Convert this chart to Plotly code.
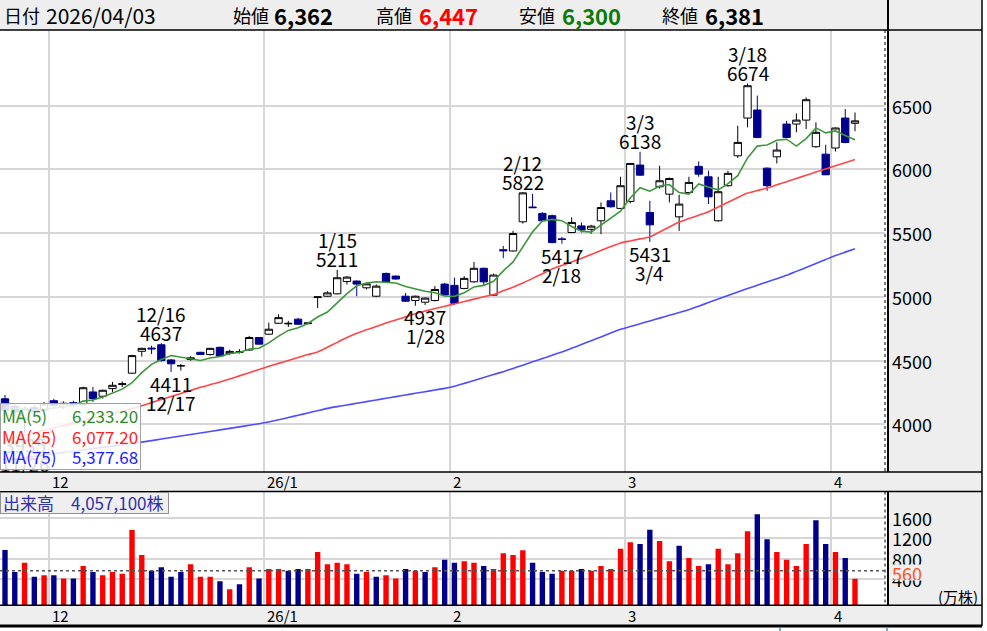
import plotly.graph_objects as go

W, H = 987, 631
FONT = "Noto Sans CJK JP"

# ---------------- data ----------------
dates = (
    ["2025/11/21", "2025/11/25", "2025/11/26", "2025/11/27", "2025/11/28"]
    + ["2025/12/%02d" % d for d in [1, 2, 3, 4, 5, 8, 9, 10, 11, 12, 15, 16, 17, 18, 19, 22, 23, 24, 25, 26, 29, 30]]
    + ["2026/01/%02d" % d for d in [5, 6, 7, 8, 9, 13, 14, 15, 16, 19, 20, 21, 22, 23, 26, 27, 28, 29, 30]]
    + ["2026/02/%02d" % d for d in [2, 3, 4, 5, 6, 9, 10, 12, 13, 16, 17, 18, 19, 20, 24, 25, 26, 27]]
    + ["2026/03/%02d" % d for d in [2, 3, 4, 5, 6, 9, 10, 11, 12, 13, 16, 17, 18, 19, 23, 24, 25, 26, 27, 30, 31]]
    + ["2026/04/%02d" % d for d in [1, 2, 3]]
)

opens = [4200, 4140, 4040, 4130, 4110, 4185, 4140, 4170, 4155, 4254,
         4220, 4280, 4312, 4401, 4573, 4598, 4624, 4505, 4458, 4508,
         4565, 4547, 4604, 4555, 4565, 4583, 4681, 4707, 4793, 4788,
         4825, 4790, 4995, 5005, 5024, 5120, 5124, 5071, 5005, 5184,
         5163, 5005, 4971, 4958, 4971, 5100, 5090, 5066, 5118, 5224,
         5013, 5370, 5360, 5589, 5705, 5655, 5637, 5455, 5505, 5557,
         5530, 5597, 5754, 5694, 5749, 6034, 5662, 5864, 5806, 5628,
         5819, 6024, 5942, 5597, 5872, 6107, 6403, 6466, 6010, 6099,
         6356, 6356, 6387, 6178, 6120, 6168, 6403, 6362]
highs = [4230, 4160, 4140, 4150, 4175, 4200, 4180, 4185, 4295, 4293,
         4272, 4332, 4337, 4545, 4600, 4617, 4637, 4512, 4474, 4535,
         4568, 4600, 4610, 4585, 4590, 4694, 4684, 4798, 4863, 4811,
         4835, 4800, 5003, 5045, 5211, 5163, 5128, 5110, 5097, 5190,
         5168, 5031, 5010, 4995, 5084, 5110, 5150, 5163, 5274, 5230,
         5182, 5400, 5518, 5822, 5808, 5665, 5645, 5471, 5624, 5584,
         5565, 5741, 5819, 5942, 6050, 6138, 5754, 6029, 5935, 5801,
         5942, 6063, 5990, 5942, 5990, 6343, 6674, 6579, 6015, 6212,
         6382, 6440, 6565, 6369, 6194, 6330, 6474, 6447]
lows = [4080, 4060, 3935, 4085, 4095, 4130, 4120, 4135, 4140, 4176,
        4202, 4254, 4293, 4395, 4531, 4552, 4490, 4411, 4422, 4498,
        4545, 4540, 4530, 4545, 4555, 4578, 4625, 4700, 4790, 4764,
        4780, 4783, 4913, 5000, 5020, 5097, 5005, 5058, 4998, 5115,
        5135, 4960, 4930, 4937, 4965, 5005, 4940, 5060, 5110, 5085,
        5010, 5303, 5355, 5575, 5698, 5590, 5420, 5417, 5500, 5505,
        5495, 5492, 5700, 5690, 5733, 5950, 5431, 5850, 5741, 5518,
        5810, 5942, 5728, 5590, 5865, 6089, 6330, 6245, 5832, 6047,
        6245, 6291, 6317, 6170, 5955, 6141, 6205, 6300]
closes = [4110, 4100, 4120, 4100, 4160, 4150, 4165, 4150, 4287, 4202,
          4267, 4306, 4318, 4539, 4596, 4592, 4500, 4475, 4460, 4522,
          4548, 4596, 4536, 4572, 4568, 4681, 4629, 4746, 4837, 4792,
          4785, 4795, 5000, 5031, 5150, 5155, 5100, 5102, 5084, 5118,
          5140, 4966, 5005, 4990, 5058, 5015, 4950, 5145, 5224, 5118,
          5171, 5362, 5497, 5816, 5700, 5597, 5426, 5450, 5584, 5525,
          5555, 5701, 5707, 5872, 6047, 5955, 5565, 5911, 5929, 5728,
          5898, 5963, 5785, 5825, 5969, 6212, 6657, 6251, 5872, 6152,
          6251, 6387, 6547, 6291, 5958, 6325, 6211, 6381]

# volume in 10,000 shares (万株)
volume = [967, 536, 719, 445, 471, 471, 412, 412, 654, 536,
          471, 536, 504, 1359, 869, 562, 628, 445, 536, 687,
          445, 445, 354, 197, 295, 628, 412, 595, 595, 562,
          595, 595, 928, 687, 719, 687, 504, 536, 445, 471,
          412, 595, 562, 536, 628, 777, 719, 745, 719, 654,
          595, 902, 869, 961, 719, 536, 504, 562, 562, 595,
          562, 654, 595, 993, 1118, 1085, 1365, 1143, 745, 1051,
          810, 654, 687, 993, 687, 902, 1333, 1666, 1177, 928,
          777, 654, 1085, 1549, 1085, 928, 810, 405.71]
volume_avg = 560

ma5 = [4135, 4128, 4120, 4114, 4118, 4126, 4139, 4145, 4182, 4191,
       4214, 4242, 4276, 4326, 4405, 4470, 4509, 4540, 4525, 4510,
       4501, 4520, 4532, 4555, 4564, 4591, 4597, 4639, 4692, 4737,
       4758, 4791, 4842, 4881, 4952, 5026, 5087, 5108, 5118, 5112,
       5109, 5082, 5063, 5044, 5032, 5007, 5004, 5032, 5078, 5090,
       5122, 5204, 5274, 5393, 5510, 5595, 5608, 5598, 5552, 5516,
       5508, 5563, 5614, 5672, 5776, 5856, 5829, 5870, 5881, 5818,
       5806, 5886, 5861, 5840, 5888, 5951, 6090, 6183, 6192, 6229,
       6237, 6183, 6242, 6326, 6287, 6302, 6266, 6233.20]
ma25 = [3876, 3895, 3914, 3933, 3952, 3971, 3990, 4009, 4028, 4047,
        4066, 4085, 4104, 4123, 4146, 4170, 4194, 4218, 4242, 4266,
        4290, 4311, 4332, 4356, 4380, 4405, 4430, 4455, 4478, 4501,
        4525, 4547, 4568, 4605, 4643, 4681, 4714, 4741, 4768, 4795,
        4819, 4843, 4867, 4889, 4908, 4926, 4944, 4963, 4982, 5001,
        5018, 5047, 5076, 5108, 5145, 5182, 5219, 5246, 5274, 5302,
        5333, 5364, 5395, 5423, 5439, 5455, 5470, 5509, 5548, 5587,
        5614, 5641, 5668, 5705, 5742, 5779, 5814, 5834, 5854, 5879,
        5904, 5929, 5954, 5979, 6004, 6028, 6052, 6077.20]
ma75 = [3719, 3729, 3739, 3749, 3759, 3769, 3779, 3789, 3799, 3809,
        3819, 3829, 3839, 3849, 3860, 3872, 3884, 3896, 3908, 3920,
        3932, 3944, 3956, 3968, 3980, 3992, 4004, 4018, 4035, 4053,
        4071, 4089, 4107, 4125, 4139, 4152, 4165, 4178, 4191, 4204,
        4217, 4230, 4243, 4256, 4269, 4282, 4298, 4321, 4344, 4367,
        4390, 4413, 4438, 4464, 4490, 4516, 4542, 4568, 4596, 4626,
        4656, 4686, 4716, 4745, 4767, 4789, 4811, 4833, 4855, 4877,
        4899, 4927, 4955, 4983, 5011, 5039, 5065, 5091, 5117, 5143,
        5169, 5200, 5231, 5262, 5293, 5324, 5351, 5377.68]

high_marks = ["2025/12/16", "2026/01/15", "2026/02/12", "2026/03/03", "2026/03/18"]
low_marks = ["2025/11/26", "2025/12/17", "2026/01/28", "2026/02/18", "2026/03/04"]

price_ticks = [4000, 4500, 5000, 5500, 6000, 6500]
volume_ticks = [1600, 1200, 800, 400]

# ---------------- helpers ----------------
def px_x(px):
    return px / W

def px_y(py):
    return 1 - py / H

def md(d):
    y, m, dd = d.split("/")
    return f"{int(m)}/{int(dd)}"

xs = list(range(len(dates)))

# month boundaries
bounds, blabels = [], []
for i in range(1, len(dates)):
    if dates[i][:7] != dates[i - 1][:7]:
        y, m, _ = dates[i].split("/")
        bounds.append(i - 0.5)
        blabels.append(f"{y[2:]}/{int(m)}" if int(m) == 1 else str(int(m)))

XR = [-0.512, 90.07]
PR = [3625.7, 7094]
VOL_FLOOR = -115
VR = [VOL_FLOOR, 2109]

UP_C, DN_C = "#000000", "#00008b"
VOL_UP, VOL_DN = "#ff0000", "#00008b"

vol_colors = []
for i, c in enumerate(closes):
    ref = closes[i - 1] if i > 0 else opens[0]
    vol_colors.append(VOL_UP if c > ref else VOL_DN)

fig = go.Figure()

fig.add_trace(go.Candlestick(
    x=xs, open=opens, high=highs, low=lows, close=closes,
    increasing=dict(line=dict(color=UP_C, width=1), fillcolor="#ffffff"),
    decreasing=dict(line=dict(color=DN_C, width=1), fillcolor=DN_C),
    whiskerwidth=0, showlegend=False, hoverinfo="skip",
    xaxis="x", yaxis="y",
))
fig.add_trace(go.Scatter(x=xs, y=ma75, mode="lines", line=dict(color="#4d4dff", width=1.6, shape="spline", smoothing=0.6),
                         showlegend=False, hoverinfo="skip", xaxis="x", yaxis="y"))
fig.add_trace(go.Scatter(x=xs, y=ma25, mode="lines", line=dict(color="#ff4646", width=1.6, shape="spline", smoothing=0.6),
                         showlegend=False, hoverinfo="skip", xaxis="x", yaxis="y"))
fig.add_trace(go.Scatter(x=xs, y=ma5, mode="lines", line=dict(color="#3c963c", width=1.6),
                         showlegend=False, hoverinfo="skip", xaxis="x", yaxis="y"))

fig.add_trace(go.Bar(
    x=xs, y=[v - VOL_FLOOR for v in volume], base=VOL_FLOOR,
    marker=dict(color=vol_colors, line=dict(width=0)), width=0.55,
    showlegend=False, hoverinfo="skip", xaxis="x2", yaxis="y2",
))

GRID = "#d6d6d6"
xdom = [0, px_x(885)]
fig.update_layout(
    width=W, height=H, margin=dict(l=0, r=0, t=0, b=0),
    paper_bgcolor="#ffffff", plot_bgcolor="#ffffff",
    font=dict(family=FONT, color="#000000"),
    hovermode=False, boxgap=0.25, boxgroupgap=0,
    xaxis=dict(domain=xdom, range=XR, tickvals=bounds, showticklabels=False, ticks="",
               showgrid=True, gridcolor=GRID, gridwidth=2, zeroline=False,
               rangeslider=dict(visible=False), anchor="y", fixedrange=True),
    yaxis=dict(domain=[px_y(472), px_y(30)], range=PR, tickvals=price_ticks,
               showticklabels=False, ticks="", showgrid=True, gridcolor=GRID, gridwidth=2,
               zeroline=False, anchor="x", fixedrange=True),
    xaxis2=dict(domain=xdom, range=XR, tickvals=bounds, showticklabels=False, ticks="",
                showgrid=True, gridcolor=GRID, gridwidth=2, zeroline=False, anchor="y2",
                fixedrange=True),
    yaxis2=dict(domain=[px_y(605.3), px_y(491.7)], range=VR, tickvals=volume_ticks,
                showticklabels=False, ticks="", showgrid=True, gridcolor=GRID, gridwidth=2,
                zeroline=False, anchor="x2", fixedrange=True),
)

shapes = []
def rect(x0, y0, x1, y1, color, layer="below"):
    shapes.append(dict(type="rect", xref="paper", yref="paper", x0=px_x(x0), x1=px_x(x1),
                       y0=px_y(y1), y1=px_y(y0), fillcolor=color, line=dict(width=0), layer=layer))

def line(x0, y0, x1, y1, color="#000000", width=1.5, dash="solid"):
    shapes.append(dict(type="line", xref="paper", yref="paper", x0=px_x(x0), x1=px_x(x1),
                       y0=px_y(y0), y1=px_y(y1), line=dict(color=color, width=width, dash=dash),
                       layer="above"))

BG = "#eeeeee"
rect(0, 0, 982, 30, BG)
rect(888, 30, 982, 472, BG)
rect(0, 472, 982, 491.5, BG)
rect(888, 491.5, 982, 605.3, BG)
rect(0, 605.3, 982, 626, BG)

line(885, 30, 885, 472, "#555555", 1.5, "dot")
line(885, 491.5, 885, 605.3, "#555555", 1.5, "dot")
for yy in (30, 472, 491.5, 605.3):
    line(0, yy, 982, yy, "#000000", 1.5)
line(0, 626, 982, 626, "#000000", 3)
line(888, 0, 888, 472, "#000000", 2)
line(888, 491.5, 888, 605.3, "#000000", 2)
line(982, 0, 982, 626, "#000000", 1.5)
line(780, 627.5, 780, 631, "#3399dd", 1.5)
line(887, 627.5, 887, 631, "#3399dd", 1.5)

shapes.append(dict(type="line", xref="x2", yref="y2", x0=XR[0], x1=XR[1], y0=volume_avg, y1=volume_avg,
                   line=dict(color="#555555", width=1.5, dash="dot"), layer="above"))

ann = []
def text(x, y, s, size, color="#000000", xanchor="left", yanchor="middle", xref="paper",
         yref="paper", bold=False, **kw):
    if bold:
        s = f"<b>{s}</b>"
    d = dict(x=x, y=y, xref=xref, yref=yref, text=s, showarrow=False, xanchor=xanchor,
             yanchor=yanchor, font=dict(family=FONT, size=size, color=color), borderpad=0)
    d.update(kw)
    ann.append(d)

# high / low marks (drawn first so boxes below can cover overflow)
for d in high_marks:
    i = dates.index(d)
    text(i, highs[i], str(highs[i]), 19, xref="x", yref="y", xanchor="center", yshift=11)
    text(i, highs[i], md(d), 19, xref="x", yref="y", xanchor="center", yshift=30)
for d in low_marks:
    i = dates.index(d)
    text(i, lows[i], str(lows[i]), 19, xref="x", yref="y", xanchor="center", yshift=-12)
    text(i, lows[i], md(d), 19, xref="x", yref="y", xanchor="center", yshift=-31)

# MA legend box
ann.append(dict(x=0, y=px_y(403), xref="paper", yref="paper", xanchor="left", yanchor="top",
                text=" ", showarrow=False, width=139, height=65, borderpad=0,
                bgcolor="rgba(255,255,255,0.85)", bordercolor="#a0a0a0", borderwidth=1))
for label, vals, col, yc in [("MA(5)", ma5, "#2b8c2b", 415), ("MA(25)", ma25, "#ff2020", 436.5),
                             ("MA(75)", ma75, "#2020ff", 457)]:
    text(px_x(1), px_y(yc), label, 17, color=col)
    text(px_x(139), px_y(yc), f"{vals[-1]:,.2f}", 17, color=col, xanchor="right")

# strip cover (keeps overflowing mark text out of the date strip, below its top line)
ann.append(dict(x=0, y=px_y(472.9), xref="paper", yref="paper", xanchor="left", yanchor="top",
                text=" ", showarrow=False, width=160, height=17.8, borderpad=0,
                bgcolor=BG, borderwidth=0))

# header
HY = px_y(15.5)
LS, VS = 18, 22
text(px_x(3), HY, "日付", LS)
text(px_x(45), HY, dates[-1], 21)
text(px_x(232), HY, "始値", LS)
text(px_x(273), HY, f"{opens[-1]:,}", VS, bold=True)
text(px_x(375), HY, "高値", LS)
text(px_x(418), HY, f"{highs[-1]:,}", VS, color="#ff0000", bold=True)
text(px_x(518), HY, "安値", LS)
text(px_x(561), HY, f"{lows[-1]:,}", VS, color="#0a7a0a", bold=True)
text(px_x(661), HY, "終値", LS)
text(px_x(704), HY, f"{closes[-1]:,}", VS, bold=True)

# right price axis labels
for v in price_ticks:
    text(px_x(891), v, str(v), 18, yref="y")
# volume axis labels
for v in volume_ticks:
    text(px_x(891), v, str(v), 18, yref="y2")
text(px_x(891), volume_avg, str(volume_avg), 18, color="#ff5522", yref="y2",
     bgcolor=BG, height=15, yshift=-1.5)
text(px_x(937), px_y(596), "(万株)", 15)

# month labels in both strips
for b, lab in zip(bounds, blabels):
    text(b, px_y(481.5), lab, 15, xref="x", xshift=2)
    text(b, px_y(615.5), lab, 15, xref="x", xshift=2)

# volume box
ann.append(dict(x=0, y=px_y(491.7), xref="paper", yref="paper", xanchor="left", yanchor="top",
                text=" ", showarrow=False, width=167, height=20, borderpad=0,
                bgcolor="#efefef", bordercolor="#909090", borderwidth=1))
text(px_x(2), px_y(502.5), f"出来高　{round(volume[-1] * 10000):,}株", 17, color="#3030b0")

fig.update_layout(shapes=shapes, annotations=ann)
fig.write_html("out.html", config={"displayModeBar": False},
               post_script="document.body.style.margin='0px';document.body.style.padding='0px';")
